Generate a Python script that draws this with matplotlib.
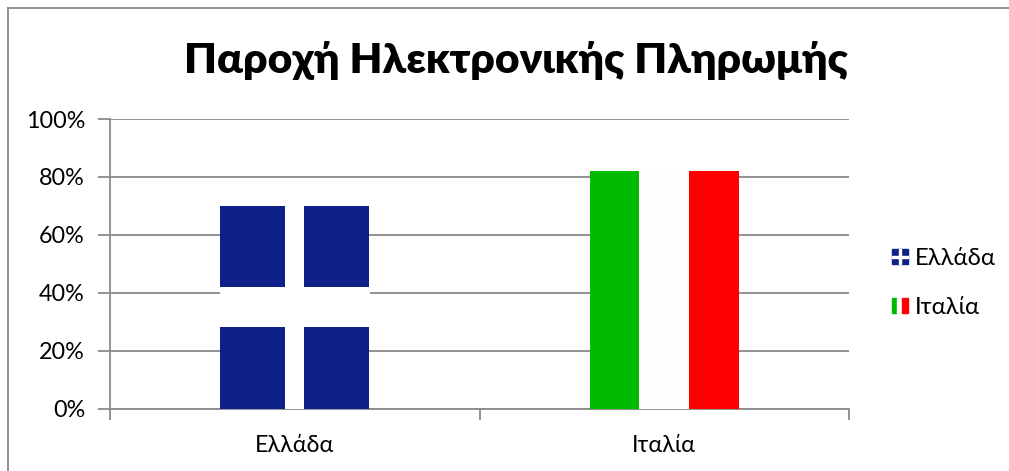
import matplotlib
matplotlib.use('Agg')
import matplotlib.pyplot as plt
from matplotlib.lines import Line2D
from matplotlib.patches import Rectangle
from matplotlib.legend_handler import HandlerBase

categories = ['Ελλάδα', 'Ιταλία']
values = [70, 82]
yticks = [0, 20, 40, 60, 80, 100]
title = 'Παροχή Ηλεκτρονικής Πληρωμής'

NAVY = '#0f2088'
GREEN = '#00bb00'
RED = '#ff0000'
WHITE = '#fdfefd'
GRAY = '#8a8a8a'
W, H = 1009, 471

plt.rcParams['font.family'] = ['Lato', 'Noto Sans', 'DejaVu Sans']

fig = plt.figure(figsize=(W / 100, H / 100), dpi=100)
ax = fig.add_axes([110 / W, 1 - 408.5 / H, 739 / W, 289.5 / H])
ax.set_xlim(-0.5, 1.5)
ax.set_ylim(0, 100)

bar_w = 0.403


def greek_bar(x, v):
    ax.bar(x, v, bar_w, color=NAVY, zorder=3)
    # white cross of the flag
    ax.bar(x, v * 0.2, bar_w + 0.002, bottom=v * 0.4, color='white', zorder=4)
    ax.bar(x, v, bar_w * 0.128, color='white', zorder=4)


def italian_bar(x, v):
    third = bar_w / 3
    ax.bar(x - third, v, third, color=GREEN, zorder=3)
    ax.bar(x, v, third, color=WHITE, zorder=3)
    ax.bar(x + third, v, third, color=RED, zorder=3)


greek_bar(0, values[0])
italian_bar(1, values[1])

ax.set_yticks(yticks)
ax.set_yticklabels(['%d%%' % t for t in yticks])
ax.set_xticks([0, 1])
ax.set_xticklabels(categories)
ax.set_xticks([-0.5, 0.5, 1.5], minor=True)
ax.yaxis.grid(True, color=GRAY, lw=1.3, zorder=1)
ax.set_axisbelow(True)
ax.tick_params(axis='y', length=9, width=1.3, color=GRAY, labelsize=16.8, pad=9, labelcolor='black')
ax.tick_params(axis='x', which='major', length=0, labelsize=16.8, pad=19, labelcolor='black')
ax.tick_params(axis='x', which='minor', length=8, width=1.3, color=GRAY)
for s in ['top', 'right']:
    ax.spines[s].set_visible(False)
for s in ['left', 'bottom']:
    ax.spines[s].set_color(GRAY)
    ax.spines[s].set_linewidth(1.3)

fig.text(516 / W, 1 - 60 / H, title, fontsize=30.6, fontweight='heavy', ha='center', va='center')


class FlagHandler(HandlerBase):
    def create_artists(self, legend, orig, xd, yd, width, height, fontsize, trans):
        x0, y0, w, h = -xd, -yd, width, height
        out = []
        if orig == 'gr':
            out.append(Rectangle((x0, y0), w, h, color=NAVY))
            out.append(Rectangle((x0 + w * 0.44, y0), w * 0.12, h, color='white'))
            out.append(Rectangle((x0, y0 + h * 0.44), w, h * 0.12, color='white'))
        else:
            out.append(Rectangle((x0, y0), w / 3, h, color=GREEN))
            out.append(Rectangle((x0 + w / 3, y0), w / 3, h, color=WHITE))
            out.append(Rectangle((x0 + 2 * w / 3, y0), w / 3, h, color=RED))
        for a in out:
            a.set_transform(trans)
        return out


fs = 17.2
fig.legend(['gr', 'it'], categories, handler_map={str: FlagHandler()},
           loc='center left', bbox_to_anchor=(884.5 / W, 1 - 283 / H), frameon=False,
           fontsize=fs, handlelength=16 * 0.72 / fs, handleheight=14 * 0.72 / fs,
           handletextpad=7 * 0.72 / fs, labelspacing=1.15, borderpad=0.3, borderaxespad=0)

# chart frame, cut off by the screenshot at right and bottom
fig.add_artist(Line2D([7.5 / W, 7.5 / W], [0, 1 - 7.5 / H], color=GRAY, lw=1.3))
fig.add_artist(Line2D([7.5 / W, 1], [1 - 7.5 / H, 1 - 7.5 / H], color=GRAY, lw=1.3))

fig.savefig('out.png', dpi=100)
